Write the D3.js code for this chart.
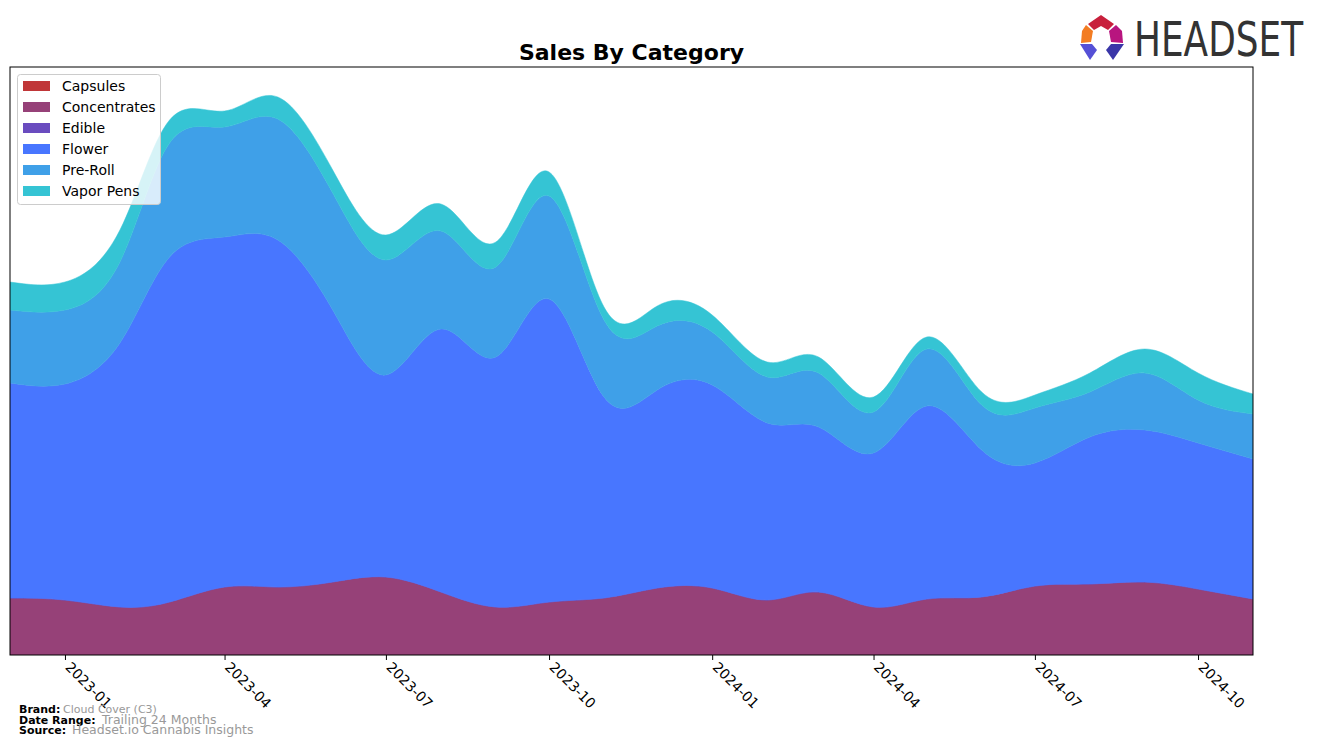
<!DOCTYPE html>
<html>
<head>
<meta charset="utf-8">
<script src="https://cdn.jsdelivr.net/npm/d3@7"></script>
<style>
  body { margin: 0; background: #fff; }
  svg { display: block; font-family: "DejaVu Sans", sans-serif; }
</style>
</head>
<body>
<svg id="chart" width="1317" height="747"></svg>
<script>
// ---- data (monthly) ----
const months = ["2022-12","2023-01","2023-02","2023-03","2023-04","2023-05","2023-06","2023-07","2023-08","2023-09","2023-10","2023-11","2023-12","2024-01","2024-02","2024-03","2024-04","2024-05","2024-06","2024-07","2024-08","2024-09","2024-10","2024-11"];
const categories = ["Capsules","Concentrates","Edible","Flower","Pre-Roll","Vapor Pens"];
const capsules     = [0,0,0,0,0,0,0,0,0,0,0,0,0,0,0,0,0,0,0,0,0,0,0,0];
const concentrates = [57,55,48,53,68,68,73,78,63,48,53,57,67,67,55,63,48,56,58,69,71,73,66,56];
const edible       = [0,0,0,0,0,0,0,0,0,0,0,0,0,0,0,0,0,0,0,0,0,0,0,0];
const flower       = [215,216,264,345,350,347,272,202,263,250,303,201,198,203,177,165,154,193,147,123,147,152,146,140];
const preRoll      = [73,74,81,114,110,121,117,115,98,90,103,77,64,53,46,54,41,57,45,55,45,57,43,45];
const vaporPens    = [28,28,32,23,16,22,23,25,27,25,24,13,20,17,15,16,15,12,13,13,19,24,27,20];
const tickLabels = ["2023-01","2023-04","2023-07","2023-10","2024-01","2024-04","2024-07","2024-10"];
const colors = ["#c03638","#964178","#6a4cbf","#4876ff","#3fa0e8","#35c4d4"];

const seriesValues = [capsules, concentrates, edible, flower, preRoll, vaporPens];
const parse = d3.utcParse("%Y-%m");
const rows = months.map((m, i) => {
  const r = { date: parse(m) };
  categories.forEach((c, k) => r[c] = seriesValues[k][i]);
  return r;
});

const svg = d3.select("#chart");
const L = 10, R = 1253, T = 67, B = 655;

const x = d3.scaleUtc().domain([parse(months[0]), parse(months[months.length - 1])]).range([L, R]);
const y = d3.scaleLinear().domain([0, 588]).range([B, T]);

const stack = d3.stack().keys(categories);
const layers = stack(rows);

const area = d3.area()
  .x(d => x(d.data.date))
  .y0(d => y(d[0]))
  .y1(d => y(d[1]))
  .curve(d3.curveNatural);

svg.append("defs").append("clipPath").attr("id", "clip")
  .append("rect").attr("x", L).attr("y", T).attr("width", R - L).attr("height", B - T);

svg.append("g").attr("clip-path", "url(#clip)")
  .selectAll("path").data(layers).join("path")
  .attr("d", area)
  .attr("fill", (d, i) => colors[i])
  .attr("stroke", (d, i) => colors[i])
  .attr("stroke-width", 0.5);

// frame
svg.append("rect").attr("x", L).attr("y", T).attr("width", R - L).attr("height", B - T)
  .attr("fill", "none").attr("stroke", "#000").attr("stroke-width", 1);

// x axis
const tickDates = tickLabels.map(t => parse(t));
const xAxis = d3.axisBottom(x).tickValues(tickDates).tickFormat(d3.utcFormat("%Y-%m")).tickSize(5).tickSizeOuter(0);
const gx = svg.append("g").attr("transform", `translate(0,${B})`).call(xAxis);
gx.select(".domain").remove();
gx.selectAll(".tick line").attr("stroke", "#000");
gx.selectAll(".tick text")
  .attr("font-size", 14).attr("font-family", "DejaVu Sans").attr("fill", "#000")
  .attr("text-anchor", "start")
  .attr("dy", null)
  .attr("y", 0)
  .attr("transform", "translate(-1,13) rotate(45)");

// title
svg.append("text").attr("x", 631.5).attr("y", 60).attr("text-anchor", "middle")
  .attr("font-size", 22).attr("font-weight", "bold").attr("fill", "#000")
  .text("Sales By Category");

// legend
const lg = svg.append("g");
lg.append("rect").attr("x", 17.5).attr("y", 74.5).attr("width", 143).attr("height", 130).attr("rx", 3)
  .attr("fill", "#fff").attr("fill-opacity", 0.8).attr("stroke", "#cccccc");
categories.forEach((c, i) => {
  const cy = 86 + i * 21;
  lg.append("rect").attr("x", 23).attr("y", cy - 5).attr("width", 27).attr("height", 10).attr("fill", colors[i]);
  lg.append("text").attr("x", 62).attr("y", cy + 5).attr("font-size", 14).attr("fill", "#000").text(c);
});

// footer
const foot = [["Brand:", "Cloud Cover (C3)", 713, 63, 11], ["Date Range:", "Trailing 24 Months", 723.5, 102, 12.5], ["Source:", "Headset.io Cannabis Insights", 734, 72, 12.5]];
foot.forEach(f => {
  svg.append("text").attr("x", 19).attr("y", f[2]).attr("font-size", 11).attr("font-weight", "bold").attr("fill", "#000").text(f[0]);
  svg.append("text").attr("x", f[3]).attr("y", f[2]).attr("font-size", f[4]).attr("fill", "#999").text(f[1]);
});

// logo
const logo = svg.append("g");
logo.append("polygon").attr("points", "1088,24 1101,15 1114,24 1108,30 1101,26 1094,30").attr("fill", "#c8203c");
logo.append("polygon").attr("points", "1086,25 1093,31 1091,42 1081,43 1082,31").attr("fill", "#f37c22");
logo.append("polygon").attr("points", "1116,25 1109,31 1111,42 1123,43 1122,31").attr("fill", "#b8157f");
logo.append("polygon").attr("points", "1080,44 1092,44 1097,50 1090,60").attr("fill", "#5550d6");
logo.append("polygon").attr("points", "1124,44 1111,44 1106,50 1113,60").attr("fill", "#3a36a8");
logo.append("text").attr("transform", "translate(1134,56) scale(0.747,1)").attr("font-size", 48).attr("fill", "#333")
  .attr("font-family", "DejaVu Sans")
  .text("HEADSET");
</script>
</body>
</html>
